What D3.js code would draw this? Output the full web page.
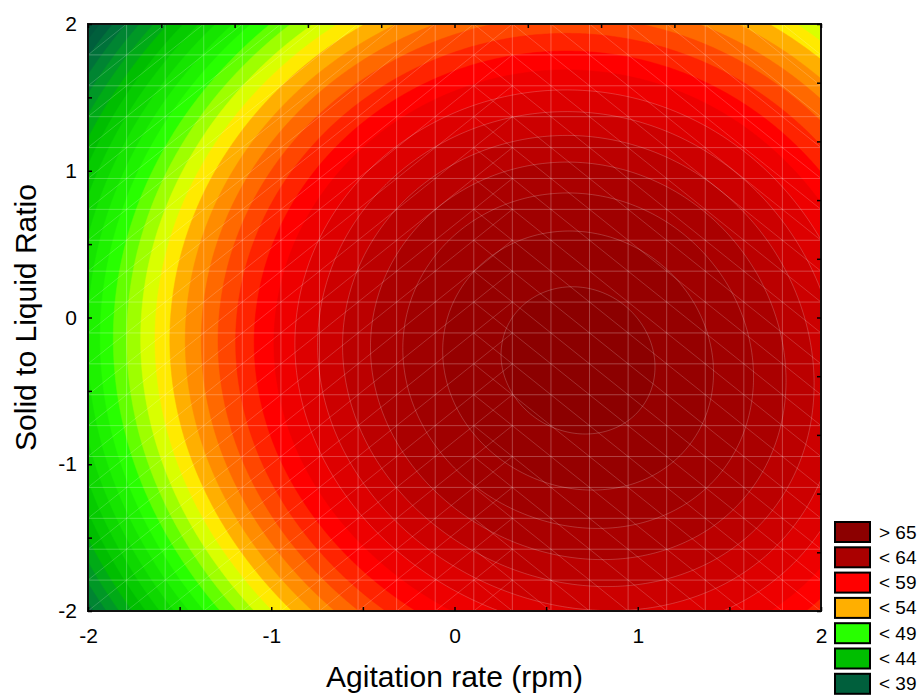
<!DOCTYPE html>
<html>
<head>
<meta charset="utf-8">
<script src="https://cdn.jsdelivr.net/npm/d3@7"></script>
<style>
  body { margin: 0; background: #fff; }
  text { font-family: "Liberation Sans", Arial, sans-serif; fill: #000; }
</style>
</head>
<body>
<svg id="chart" width="920" height="695"></svg>
<script>
// fitted response surface (coded factors)
const modelTerms = ["const", "x", "y", "x^2", "y^2", "xy", "xy^2", "x^2y"];
const modelCoef = [65.14, 3.59, -0.921, -2.74, -1.98, -0.254, 0.102, -0.051];

const xTicks = [-2, -1, 0, 1, 2];
const yTicks = [-2, -1, 0, 1, 2];
const contourLevels = d3.range(30, 67); // one band per unit

const legendLabels = ["> 65", "< 64", "< 59", "< 54", "< 49", "< 44", "< 39"];
const legendColors = ["#8c0000", "#aa0000", "#ff0000", "#ffaf00", "#28ff00", "#00be00", "#005f3c"];

// colour ramp anchors (level -> colour)
const rampLevels = [36, 39, 44, 49, 54, 59, 64, 66, 67];
const rampColors = ["#004636", "#005f3c", "#00be00", "#28ff00", "#ffaf00", "#ff0000", "#aa0000", "#960000", "#8c0000"];

const svg = d3.select("#chart");
const pLeft = 88, pRight = 821, pTop = 24, pBottom = 611;

const x = d3.scaleLinear().domain([-2, 2]).range([pLeft, pRight]);
const y = d3.scaleLinear().domain([-2, 2]).range([pBottom, pTop]);

function surface(a, b) {
  const t = [1, a, b, a * a, b * b, a * b, a * b * b, a * a * b];
  return d3.sum(t, (v, i) => v * modelCoef[i]);
}

function colorAt(v) {
  if (v <= rampLevels[0]) return rampColors[0];
  for (let i = 1; i < rampLevels.length; i++) {
    if (v <= rampLevels[i]) {
      const k = (v - rampLevels[i - 1]) / (rampLevels[i] - rampLevels[i - 1]);
      return d3.interpolateHsl(rampColors[i - 1], rampColors[i])(k);
    }
  }
  return rampColors[rampColors.length - 1];
}

//Grid of the model over the design space
const nx = 293, ny = 235;
const hx = 4 / (nx - 1), hy = 4 / (ny - 1);
const values = new Array(nx * ny);
for (let j = 0; j < ny; j++) {
  for (let i = 0; i < nx; i++) {
    values[j * nx + i] = surface(-2 + i * hx, 2 - j * hy);
  }
}

const contours = d3.contours().size([nx, ny]).thresholds(contourLevels)(values);

const proj = d3.geoTransform({
  point: function(u, v) {
    this.stream.point(x(-2 + (u - 0.5) * hx), y(2 - (v - 0.5) * hy));
  }
});
const path = d3.geoPath(proj);

svg.append("clipPath").attr("id", "plot-clip")
  .append("rect")
  .attr("x", pLeft).attr("y", pTop)
  .attr("width", pRight - pLeft).attr("height", pBottom - pTop);

const plot = svg.append("g").attr("clip-path", "url(#plot-clip)");

plot.append("rect")
  .attr("x", pLeft).attr("y", pTop)
  .attr("width", pRight - pLeft).attr("height", pBottom - pTop)
  .attr("fill", colorAt(contourLevels[0]));

plot.selectAll("path.band")
  .data(contours)
  .enter()
  .append("path")
  .attr("class", "band")
  .attr("d", path)
  .attr("fill", d => colorAt(d.value + 1))
  .attr("stroke", d => colorAt(d.value + 1))
  .attr("stroke-width", 0.5);

//faint seams along the dark red contours
plot.selectAll("path.seam")
  .data(contours.filter(d => d.value >= 60))
  .enter()
  .append("path")
  .attr("class", "seam")
  .attr("d", path)
  .attr("fill", "none")
  .attr("stroke", "#fff")
  .attr("stroke-opacity", 0.2)
  .attr("stroke-width", 1);

//Mesh seams of the triangulated grid
const meshX = d3.range(20).map(i => -2 + i * 4 / 19);
const meshY = d3.range(20).map(i => -2 + i * 4 / 19);
const mesh = plot.append("g")
  .attr("stroke", "#fff")
  .attr("stroke-width", 1);

mesh.selectAll("line.v").data(meshX.slice(1)).enter().append("line")
  .attr("stroke-opacity", 0.26)
  .attr("x1", d => x(d)).attr("x2", d => x(d))
  .attr("y1", pTop).attr("y2", pBottom);
mesh.selectAll("line.h").data(meshY.slice(1)).enter().append("line")
  .attr("stroke-opacity", 0.26)
  .attr("y1", d => y(d)).attr("y2", d => y(d))
  .attr("x1", pLeft).attr("x2", pRight);

const cells = [];
for (let i = 0; i < 19; i++) {
  for (let j = 0; j < 19; j++) {
    const cx = (meshX[i] + meshX[i + 1]) / 2;
    if (cx < 0.3) cells.push({ x0: meshX[i], x1: meshX[i + 1], ya: meshY[j], yb: meshY[j + 1] });
    if (cx > 0.0) cells.push({ x0: meshX[i], x1: meshX[i + 1], ya: meshY[j + 1], yb: meshY[j] });
  }
}
mesh.selectAll("line.d").data(cells).enter().append("line")
  .attr("stroke-opacity", 0.18)
  .attr("x1", d => x(d.x0)).attr("y1", d => y(d.ya))
  .attr("x2", d => x(d.x1)).attr("y2", d => y(d.yb));

//Frame
svg.append("rect")
  .attr("x", pLeft).attr("y", pTop)
  .attr("width", pRight - pLeft).attr("height", pBottom - pTop)
  .attr("fill", "none")
  .attr("stroke", "#111")
  .attr("stroke-width", 2);

//Inward tick marks
const tick05 = d3.range(-2, 2.001, 0.5);
const tick04 = d3.range(-2, 2.001, 0.4);
svg.append("g").attr("transform", `translate(0,${pBottom})`)
  .call(d3.axisBottom(x).tickValues(tick05).tickSize(-4).tickFormat(""))
  .call(g => g.select(".domain").remove());
svg.append("g").attr("transform", `translate(${pLeft},0)`)
  .call(d3.axisLeft(y).tickValues(tick05).tickSize(-4).tickFormat(""))
  .call(g => g.select(".domain").remove());
svg.append("g").attr("transform", `translate(0,${pTop})`)
  .call(d3.axisTop(x).tickValues(tick04).tickSize(-4).tickFormat(""))
  .call(g => g.select(".domain").remove());
svg.append("g").attr("transform", `translate(${pRight},0)`)
  .call(d3.axisRight(y).tickValues(tick04).tickSize(-4).tickFormat(""))
  .call(g => g.select(".domain").remove());
svg.selectAll(".tick line").attr("stroke", "#000").attr("stroke-width", 1.5);

//Tick labels
svg.append("g").attr("class", "x-axis").attr("transform", `translate(0,${pBottom})`)
  .call(d3.axisBottom(x).tickValues(xTicks).tickSize(0).tickPadding(17).tickFormat(d => String(d)))
  .call(g => g.select(".domain").remove())
  .selectAll("text")
  .style("font-size", "21px")
  .style("font-family", "'Liberation Sans', Arial, sans-serif");

svg.append("g").attr("class", "y-axis").attr("transform", `translate(${pLeft},0)`)
  .call(d3.axisLeft(y).tickValues(yTicks).tickSize(0).tickPadding(11).tickFormat(d => String(d)))
  .call(g => g.select(".domain").remove())
  .selectAll("text")
  .style("font-size", "21px")
  .style("font-family", "'Liberation Sans', Arial, sans-serif");

//Axis titles
svg.append("text")
  .attr("x", (pLeft + pRight) / 2)
  .attr("y", 687)
  .attr("text-anchor", "middle")
  .style("font-size", "30px")
  .text("Agitation rate (rpm)");

svg.append("text")
  .attr("transform", `translate(36,${(pTop + pBottom) / 2}) rotate(-90)`)
  .attr("text-anchor", "middle")
  .style("font-size", "30px")
  .text("Solid to Liquid Ratio");

//Legend
const legend = svg.append("g").attr("transform", "translate(835,522)");
const item = legend.selectAll("g")
  .data(legendLabels)
  .enter()
  .append("g")
  .attr("transform", (d, i) => `translate(0,${i * 25.3})`);
item.append("rect")
  .attr("width", 35).attr("height", 20)
  .attr("fill", (d, i) => legendColors[i])
  .attr("stroke", "#000")
  .attr("stroke-width", 2);
item.append("text")
  .attr("x", 44).attr("y", 16.5)
  .style("font-size", "19px")
  .text(d => d);
</script>
</body>
</html>
